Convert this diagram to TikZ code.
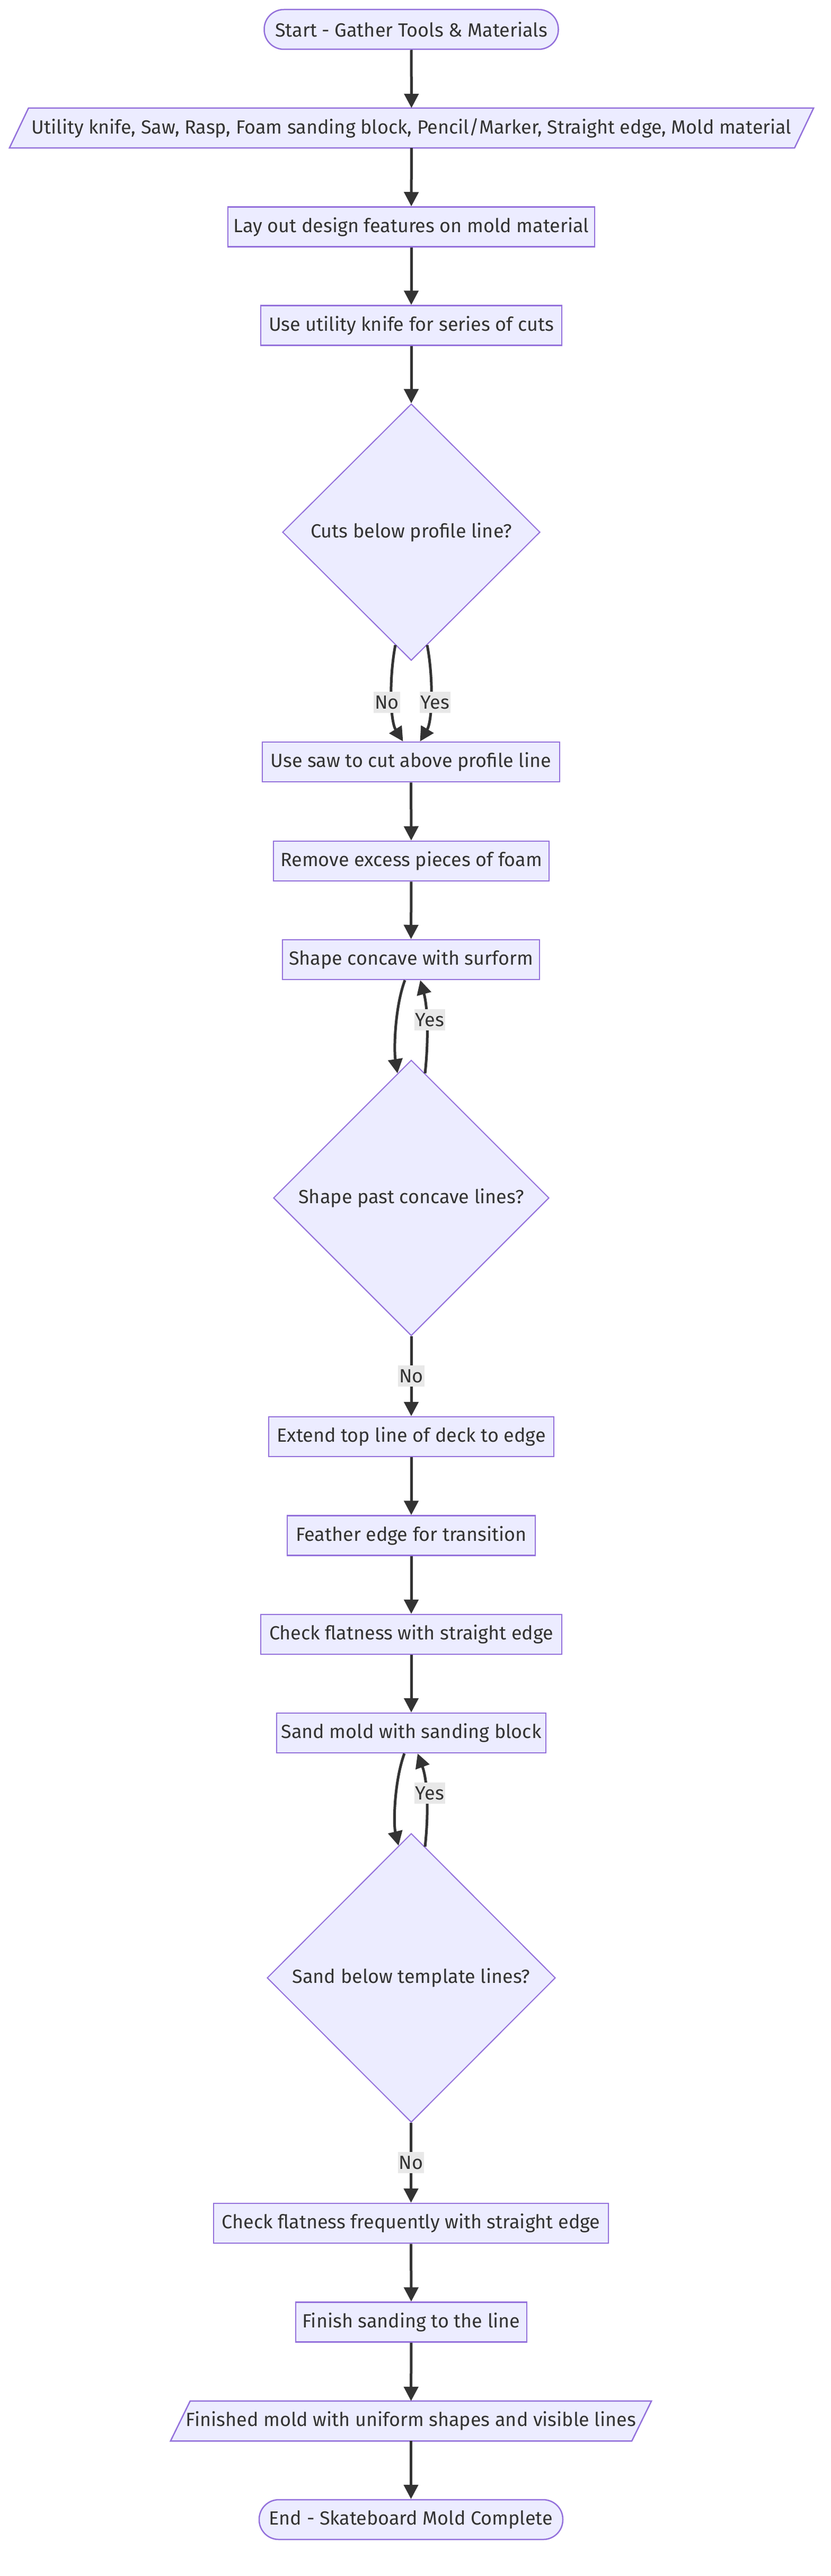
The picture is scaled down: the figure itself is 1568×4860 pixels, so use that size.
\documentclass[tikz,border=0pt]{standalone}
\usepackage{fontspec}
\setmainfont{Fira Sans}
\usetikzlibrary{shapes.geometric,arrows.meta,calc}
\pgfdeclarelayer{bg}
\pgfsetlayers{bg,main}
\definecolor{nodefill}{HTML}{ECECFF}
\definecolor{nodeline}{HTML}{9370DB}
\definecolor{edgecol}{HTML}{333333}
\definecolor{labelbg}{HTML}{E8E8E8}
\begin{document}
\begin{tikzpicture}[x=1pt,y=-1pt,
  every node/.style={font=\fontsize{36}{42}\selectfont, text=edgecol},
  box/.style={draw=nodeline, fill=nodefill, line width=2.5pt, rectangle, inner sep=0pt, minimum height=75pt},
  term/.style={box, rounded corners=37pt},
  decision/.style={draw=nodeline, fill=nodefill, line width=2pt, diamond, inner sep=0pt},
  io/.style={rectangle, inner sep=0pt, minimum height=75pt},
  pbox/.style={draw=nodeline, fill=nodefill, line width=2.5pt},
  flow/.style={draw=edgecol, line width=5pt, -{Triangle[length=27pt,width=27pt]}},
  lbl/.style={fill=labelbg, inner xsep=2pt, inner ysep=0pt, minimum height=40pt}
]
\useasboundingbox (0,0) rectangle (1568,4860);

% nodes
\node[term, minimum width=555pt] (start) at (776,55.5) {Start - Gather Tools \& Materials};
\node[io, minimum width=1517pt] (tools) at (776.5,241.5) {Utility knife, Saw, Rasp, Foam sanding block, Pencil/Marker, Straight edge, Mold material};
\node[box, minimum width=692pt] (layout) at (776,428) {Lay out design features on mold material};
\node[box, minimum width=568pt] (useutil) at (776,614) {Use utility knife for series of cuts};
\node[decision, minimum width=486pt, minimum height=484pt] (d1) at (776,1004) {Cuts below profile line?};
\node[box, minimum width=561pt] (usesaw) at (775.5,1437.5) {Use saw to cut above profile line};
\node[box, minimum width=520pt] (remove) at (776,1624.5) {Remove excess pieces of foam};
\node[box, minimum width=485pt] (shape) at (775.5,1810.5) {Shape concave with surform};
\node[decision, minimum width=520pt, minimum height=520pt] (d2) at (776,2260) {Shape past concave lines?};
\node[box, minimum width=538pt] (extend) at (776,2710.5) {Extend top line of deck to edge};
\node[box, minimum width=468pt] (feather) at (776,2897) {Feather edge for transition};
\node[box, minimum width=568pt] (check) at (776,3083.5) {Check flatness with straight edge};
\node[box, minimum width=508pt] (sand) at (776,3269.5) {Sand mold with sanding block};
\node[decision, minimum width=544pt, minimum height=545pt] (d3) at (776,3731.5) {Sand below template lines?};
\node[box, minimum width=745pt] (checkfreq) at (775.5,4194.5) {Check flatness frequently with straight edge};
\node[box, minimum width=436pt] (finish) at (776,4381) {Finish sanding to the line};
\node[io, minimum width=907pt] (finished) at (775.5,4567.5) {Finished mold with uniform shapes and visible lines};
\node[term, minimum width=573pt] (end) at (775.5,4753.5) {End - Skateboard Mold Complete};

\begin{pgfonlayer}{bg}
\fill[white] (0,0) rectangle (1568,4860);
\filldraw[pbox] ([shift={(36,0)}]tools.north west) -- (tools.north east) -- ([shift={(-36,0)}]tools.south east) -- (tools.south west) -- cycle;
\filldraw[pbox] ([shift={(37,0)}]finished.north west) -- (finished.north east) -- ([shift={(-37,0)}]finished.south east) -- (finished.south west) -- cycle;
\end{pgfonlayer}

% edges
\draw[flow] (start) -- (tools);
\draw[flow] (tools) -- (layout);
\draw[flow] (layout) -- (useutil);
\draw[flow] (useutil) -- (d1);
\draw[flow] ([shift={(-30,-30)}]d1.south) .. controls (734,1280) and (736,1360) .. ([shift={(-15,0)}]usesaw.north);
\draw[flow] ([shift={(30,-30)}]d1.south) .. controls (818,1280) and (816,1360) .. ([shift={(17,0)}]usesaw.north);
\node[lbl] (lno1) at (730,1325) {No};
\node[lbl] (lyes1) at (821,1325) {Yes};
\draw[flow] (usesaw) -- (remove);
\draw[flow] (remove) -- (shape);
\draw[flow] ([shift={(-11.5,0)}]shape.south) .. controls (745,1900) and (743,1980) .. ([shift={(-26,26)}]d2.north);
\draw[flow] ([shift={(26,26)}]d2.north) .. controls (809,1960) and (807,1900) .. ([shift={(17.5,0)}]shape.south);
\node[lbl] (lyes2) at (811,1924) {Yes};
\draw[flow] (d2) -- node[lbl] (lno2) {No} (extend);
\draw[flow] (extend) -- (feather);
\draw[flow] (feather) -- (check);
\draw[flow] (check) -- (sand);
\draw[flow] ([shift={(-13,0)}]sand.south) .. controls (744,3360) and (742,3440) .. ([shift={(-24,24)}]d3.north);
\draw[flow] ([shift={(26,26)}]d3.north) .. controls (809,3420) and (807,3360) .. ([shift={(12,0)}]sand.south);
\node[lbl] (lyes3) at (811,3383) {Yes};
\draw[flow] (d3) -- node[lbl] (lno3) {No} (checkfreq);
\draw[flow] (checkfreq) -- (finish);
\draw[flow] (finish) -- (finished);
\draw[flow] (finished) -- (end);
\end{tikzpicture}
\end{document}
